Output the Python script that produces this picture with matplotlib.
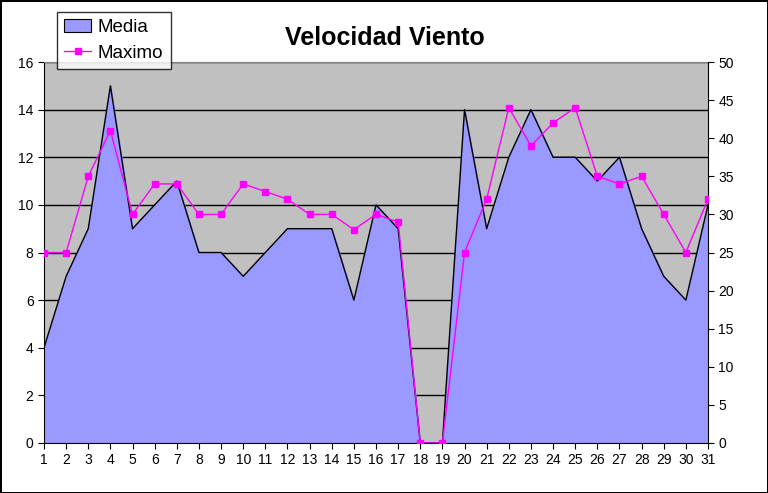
import numpy as np
import matplotlib.pyplot as plt
from matplotlib.patches import Patch
from matplotlib.lines import Line2D

plt.rcParams['font.family'] = ['Liberation Sans', 'DejaVu Sans']

dias = list(range(1, 32))
media = [4, 7, 9, 15, 9, 10, 11, 8, 8, 7, 8, 9, 9, 9, 6, 10, 9, 0, 0, 14,
         9, 12, 14, 12, 12, 11, 12, 9, 7, 6, 10]
maximo = [25, 25, 35, 41, 30, 34, 34, 30, 30, 34, 33, 32, 30, 30, 28, 30, 29, 0, 0, 25,
          32, 44, 39, 42, 44, 35, 34, 35, 30, 25, 32]

fig = plt.figure(figsize=(7.68, 4.93), dpi=100)
fig.patch.set_edgecolor('black')
fig.patch.set_linewidth(2)
ax = fig.add_axes([44 / 768, 50 / 493, 664 / 768, 381 / 493])
ax.set_facecolor('#c0c0c0')

# area Media
ax.fill_between(dias, media, 0, color='#9999ff', zorder=2)
ax.plot(dias, media, color='black', lw=1, zorder=3)
ax.set_ylim(0, 16)
ax.set_xlim(1, 31)
ax.set_yticks(range(0, 17, 2))
ax.set_xticks(dias)
ax.yaxis.grid(True, color='black', lw=1, zorder=1)
ax.set_axisbelow(True)
ax.tick_params(direction='out', length=4, labelsize=10, color='black')
ax.spines['top'].set_color('#808080')
ax.spines['right'].set_visible(False)

# linea Maximo
ax2 = ax.twinx()
ax2.plot(dias, maximo, color='#ff00ff', lw=1, marker='s', markersize=5, zorder=4)
ax2.set_ylim(0, 50)
ax2.set_yticks(range(0, 51, 5))
ax2.tick_params(direction='out', length=4, labelsize=10, color='black')
ax2.spines['top'].set_visible(False)
ax2.spines['left'].set_visible(False)
ax2.spines['bottom'].set_visible(False)

h = [Patch(facecolor='#9999ff', edgecolor='black', lw=0.8, label='Media'),
     Line2D([], [], color='#ff00ff', marker='s', markersize=5, lw=1, label='Maximo')]
leg = fig.legend(handles=h, loc='upper left', bbox_to_anchor=(57 / 768, 1 - 12 / 493),
                 frameon=True, fancybox=False, edgecolor='black', fontsize=13.5,
                 borderpad=0.38, labelspacing=0.45, handlelength=1.45, handletextpad=0.35,
                 borderaxespad=0)
leg.get_frame().set_linewidth(1)

fig.text(385 / 768, 1 - 38 / 493, 'Velocidad Viento', ha='center', va='center',
         fontsize=18, fontweight='bold')

fig.savefig('out.png', dpi=100)
